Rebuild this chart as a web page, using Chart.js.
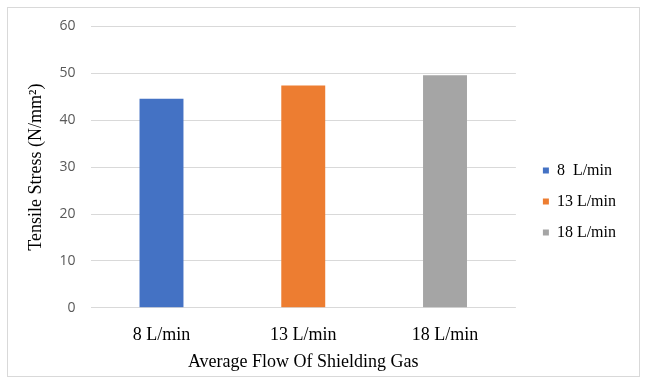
<!DOCTYPE html>
<html>
<head>
<meta charset="utf-8">
<script src="https://cdn.jsdelivr.net/npm/chart.js@4.4.0/dist/chart.umd.min.js"></script>
<style>
  body { margin: 0; background: #fff; }
  #box {
    position: absolute; left: 7px; top: 7px;
    width: 633px; height: 370px;
    border: 1px solid #d9d9d9; box-sizing: border-box;
  }
</style>
</head>
<body>
<div id="box"><canvas id="stressChart"></canvas></div>
<script>
// data
const flowLabels = ['8 L/min', '13 L/min', '18 L/min'];
const legendLabels = ['8  L/min', '13 L/min', '18 L/min'];
const tensileStress = [44.6, 47.4, 49.6];
const barColors = ['#4472C4', '#ED7D31', '#A5A5A5'];
const yTicks = [0, 10, 20, 30, 40, 50, 60];

const serif = "'Liberation Serif', 'Times New Roman', serif";

// widen the legend box on its left side so the gap to the plot matches,
// and nudge the items a bit lower like in the reference
const LEGEND_EXTRA = 16;
const LEGEND_SHIFT = 12;
const LEGEND_DY = 10;
const legendGap = {
    id: 'legendGap',
    beforeInit(chart) {
        const lg = chart.legend;
        if (!lg) return;
        const fit = lg.fit;
        lg.fit = function () {
            fit.call(this);
            this.width += LEGEND_EXTRA;
        };
        const draw = lg.draw;
        lg.draw = function () {
            this.left += LEGEND_SHIFT;
            this.top += LEGEND_DY;
            this.bottom += LEGEND_DY;
            draw.call(this);
            this.left -= LEGEND_SHIFT;
            this.top -= LEGEND_DY;
            this.bottom -= LEGEND_DY;
        };
    }
};

const ctx = document.getElementById('stressChart').getContext('2d');
const stressChart = new Chart(ctx, {
    type: 'bar',
    data: {
        labels: flowLabels,
        datasets: [{
            label: 'Tensile Stress',
            data: tensileStress,
            backgroundColor: barColors,
            borderWidth: 0,
            categoryPercentage: 1,
            barPercentage: 0.31,
        }]
    },
    plugins: [legendGap],
    options: {
        responsive: true,
        maintainAspectRatio: false,
        animation: false,
        layout: { padding: { left: 17, right: 9, top: 2, bottom: 3 } },
        plugins: {
            tooltip: { enabled: false },
            legend: {
                position: 'right',
                labels: {
                    boxWidth: 6,
                    boxHeight: 6,
                    padding: 15,
                    color: '#000',
                    font: { family: serif, size: 16 },
                    generateLabels: () => legendLabels.map((t, i) => ({
                        text: t,
                        fillStyle: barColors[i],
                        strokeStyle: barColors[i],
                        lineWidth: 0,
                        index: i,
                    })),
                },
            },
        },
        scales: {
            x: {
                grid: { display: false, drawTicks: false },
                border: { display: false },
                ticks: {
                    color: '#000',
                    padding: 17,
                    font: { family: serif, size: 18 },
                },
                title: {
                    display: true,
                    text: 'Average Flow Of Shielding Gas',
                    color: '#000',
                    padding: { top: -12, bottom: 0 },
                    font: { family: serif, size: 18 },
                },
            },
            y: {
                min: yTicks[0],
                max: yTicks[yTicks.length - 1],
                afterBuildTicks: axis => { axis.ticks = yTicks.map(v => ({ value: v })); },
                grid: { color: '#d9d9d9', drawTicks: true, tickLength: 5, tickColor: 'rgba(0,0,0,0)' },
                border: { display: false },
                ticks: {
                    color: '#595959',
                    padding: 10,
                    font: { family: "'Open Sans', sans-serif", size: 14 },
                },
                title: {
                    display: true,
                    text: 'Tensile Stress (N/mm²)',
                    color: '#000',
                    padding: { top: 0, bottom: 3 },
                    font: { family: serif, size: 18 },
                },
            },
        },
    }
});
</script>
</body>
</html>
